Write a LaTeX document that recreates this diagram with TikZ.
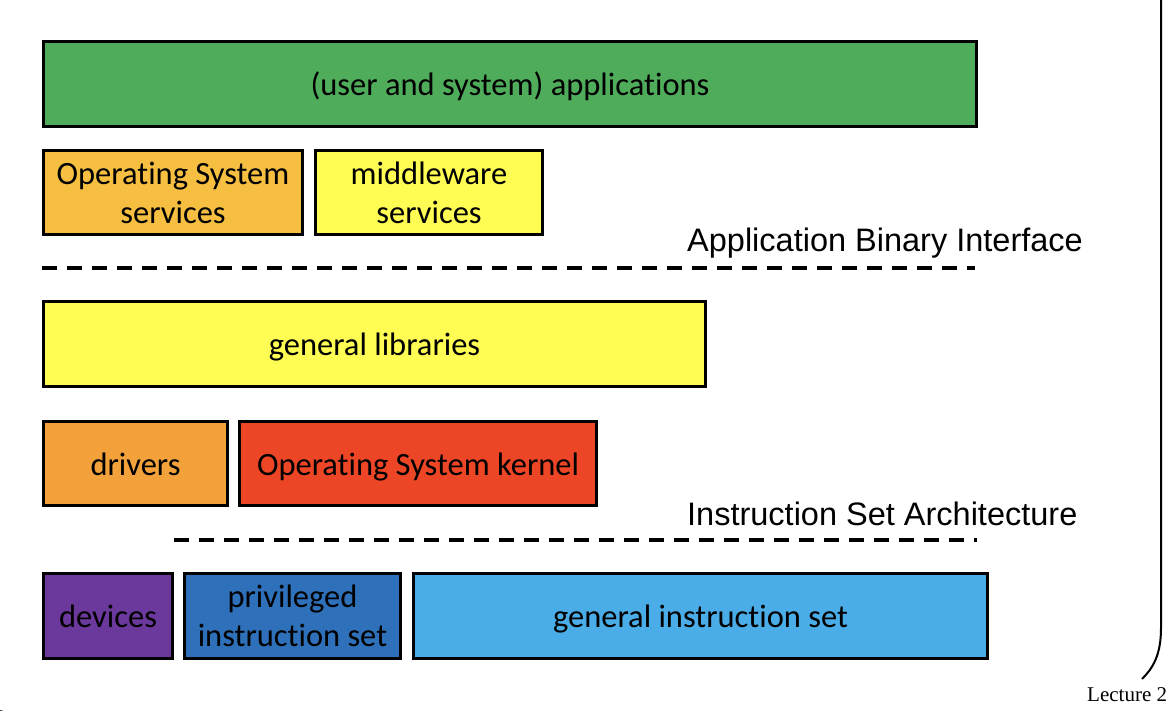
\documentclass[tikz,border=0pt]{standalone}
\usepackage{fontspec}
\setmainfont{Carlito}[RawFeature={-liga;-clig;-calt;-dlig}]
\newfontfamily\labelfont{Liberation Sans}
\newfontfamily\slidefont{Liberation Serif}
\usetikzlibrary{positioning}
\definecolor{apps}{HTML}{4FAC5B}
\definecolor{ossvc}{HTML}{F6BF42}
\definecolor{yel}{HTML}{FFFD54}
\definecolor{drv}{HTML}{F2A13B}
\definecolor{kern}{HTML}{EC4626}
\definecolor{dev}{HTML}{6B389C}
\definecolor{priv}{HTML}{2E70B9}
\definecolor{instr}{HTML}{4BADE8}
\tikzset{layer/.style={draw,line width=3pt,inner sep=0pt,align=center,minimum height=85pt,font=\fontsize{32.5}{39}\selectfont},row/.style={layer,minimum height=84pt},oneline/.style={text height=27pt,text depth=4pt},iface/.style={inner sep=0pt,anchor=west,font=\labelfont\fontsize{32.5}{38}\selectfont},bound/.style={line width=4pt,dash pattern=on 15pt off 10pt},slide/.style={inner sep=0pt,font=\slidefont\fontsize{21}{25}\selectfont}}
\begin{document}
\begin{tikzpicture}[x=1pt,y=-1pt]
\useasboundingbox (0,0) rectangle (1170,716);
\node[layer,oneline,fill=apps,minimum width=933pt,anchor=north west] (apps) at (42,40) {(user and system) applications};
\node[row,fill=ossvc,minimum width=259pt,below=21pt of apps.south west,anchor=north west] (ossvc) {Operating System\\services};\node[row,fill=yel,minimum width=227pt,right=10pt of ossvc] (midsvc) {middleware\\services};
\node[iface] (abi) at (687,243) {Application Binary Interface};
\coordinate (abi l) at (42,268);\coordinate (abi r) at (975,268);\draw[bound] (abi l) -- (abi r);
\node[layer,oneline,fill=yel,minimum width=662pt,anchor=north west] (libs) at (42,300) {general libraries};
\node[row,oneline,fill=drv,minimum width=184pt,below=32pt of libs.south west,anchor=north west] (drivers) {drivers};\node[row,oneline,fill=kern,minimum width=357pt,right=9pt of drivers] (kernel) {Operating System kernel};
\node[iface] (isa) at (687,514) {Instruction Set Architecture};
\coordinate (isa l) at (174,540);\coordinate (isa r) at (977,540);\draw[bound] (isa l) -- (isa r);
\node[layer,oneline,fill=dev,minimum width=129pt,anchor=north west] (devices) at (42,572) {devices};
\node[layer,fill=priv,minimum width=216pt,right=9pt of devices] (privset) {privileged\\instruction set};\node[layer,oneline,fill=instr,minimum width=574pt,right=10pt of privset] (genset) {general instruction set};
\coordinate (brace top) at (1161,0);\coordinate (brace end) at (1142,679);
\draw[line width=2pt] (brace top) -- (1161,628) .. controls (1161,655) and (1153,668) .. (brace end);
\node[slide,anchor=west] (lecture) at (1087,695) {Lecture 2};\node[slide,anchor=east] (pageno) at (4,705) {1};
\end{tikzpicture}
\end{document}
